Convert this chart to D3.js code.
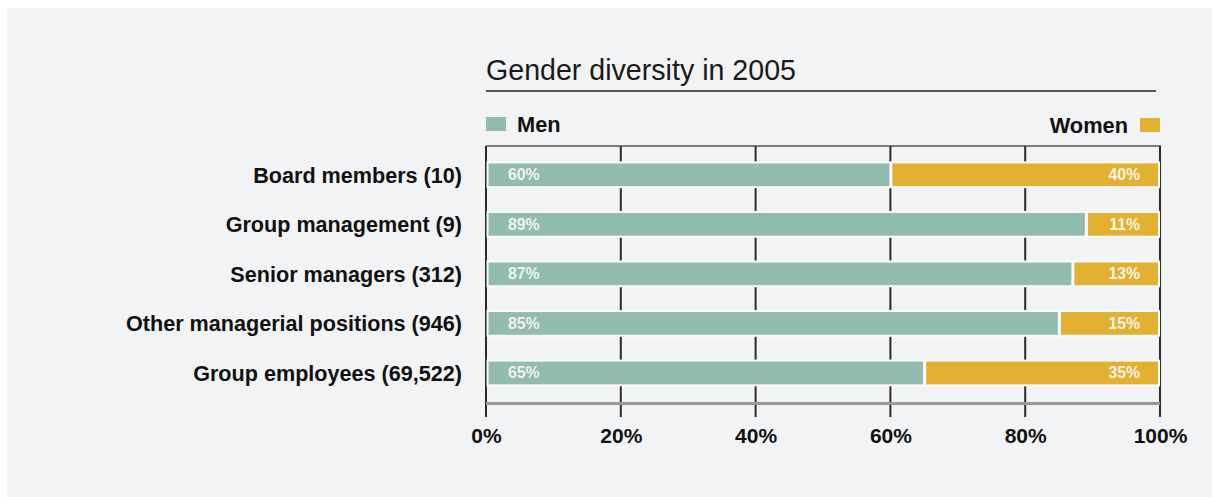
<!DOCTYPE html>
<html>
<head>
<meta charset="utf-8">
<script src="https://cdn.jsdelivr.net/npm/d3@7"></script>
<style>
  html, body { margin: 0; padding: 0; background: #ffffff; }
  svg { display: block; }
  text { font-family: "Liberation Sans", Arial, Helvetica, sans-serif; }
</style>
</head>
<body>
<svg id="chart" width="1212" height="497"></svg>
<script>
// Gender split by staff category, 2005 (percent)
const categories = [
  "Board members (10)",
  "Group management (9)",
  "Senior managers (312)",
  "Other managerial positions (946)",
  "Group employees (69,522)"
];
const menShare = [60, 89, 87, 85, 65];
const womenShare = [40, 11, 13, 15, 35];
const tickValues = [0, 20, 40, 60, 80, 100];
const seriesNames = ["Men", "Women"];
const seriesColors = ["#93bcb0", "#e2b132"];

const svg = d3.select("#chart");

// panel background
svg.append("rect")
  .attr("x", 7).attr("y", 8)
  .attr("width", 1212 - 7).attr("height", 497 - 8)
  .attr("fill", "#f2f3f5");

const plotLeft = 486, plotRight = 1160, plotTop = 146, plotBottom = 417;

const x = d3.scaleLinear().domain([0, 100]).range([plotLeft, plotRight]);
const y = d3.scaleBand()
  .domain(categories)
  .range([150, 397.75])
  .paddingInner(0.5)
  .paddingOuter(0.25);

// title and rule under it
svg.append("text")
  .attr("x", plotLeft).attr("y", 80)
  .attr("font-size", 28.6)
  .attr("fill", "#1a1a1a")
  .text("Gender diversity in 2005");
svg.append("line")
  .attr("x1", plotLeft).attr("x2", 1156)
  .attr("y1", 91).attr("y2", 91)
  .attr("stroke", "#222").attr("stroke-width", 1.3);

// legend
svg.append("rect")
  .attr("x", 486).attr("y", 117).attr("width", 20).attr("height", 14)
  .attr("fill", seriesColors[0]);
svg.append("text")
  .attr("x", 517).attr("y", 131.5)
  .attr("font-size", 21.8).attr("font-weight", "bold").attr("fill", "#111")
  .text(seriesNames[0]);
svg.append("rect")
  .attr("x", 1140).attr("y", 118).attr("width", 20).attr("height", 14)
  .attr("fill", seriesColors[1]);
svg.append("text")
  .attr("x", 1128).attr("y", 132.5)
  .attr("text-anchor", "end")
  .attr("font-size", 21.8).attr("font-weight", "bold").attr("fill", "#111")
  .text(seriesNames[1]);

// frame: top rule and vertical lines at every tick
svg.append("line")
  .attr("x1", plotLeft).attr("x2", plotRight + 1)
  .attr("y1", plotTop).attr("y2", plotTop)
  .attr("stroke", "#555").attr("stroke-width", 1.5);

svg.append("g").selectAll("line")
  .data(tickValues)
  .join("line")
  .attr("x1", d => x(d)).attr("x2", d => x(d))
  .attr("y1", plotTop).attr("y2", plotBottom)
  .attr("stroke", "#2b2b2b").attr("stroke-width", 2);

// grey base line
svg.append("line")
  .attr("x1", plotLeft).attr("x2", plotRight)
  .attr("y1", 403.5).attr("y2", 403.5)
  .attr("stroke", "#9a9a9a").attr("stroke-width", 3);

// bars
const rows = categories.map((c, i) => ({ cat: c, men: menShare[i], women: womenShare[i] }));

const bars = svg.append("g");
bars.selectAll("rect.men")
  .data(rows)
  .join("rect")
  .attr("class", "men")
  .attr("x", x(0) + 1.5)
  .attr("y", d => y(d.cat))
  .attr("width", d => x(d.men) - x(0) - 1.5)
  .attr("height", y.bandwidth())
  .attr("fill", seriesColors[0])
  .attr("stroke", "#fbfbfb").attr("stroke-width", 2);

bars.selectAll("rect.women")
  .data(rows)
  .join("rect")
  .attr("class", "women")
  .attr("x", d => x(d.men) + 1)
  .attr("y", d => y(d.cat))
  .attr("width", d => x(100) - x(d.men) - 2)
  .attr("height", y.bandwidth())
  .attr("fill", seriesColors[1])
  .attr("stroke", "#fbfbfb").attr("stroke-width", 2);

// value labels inside bars
bars.selectAll("text.menv")
  .data(rows)
  .join("text")
  .attr("class", "menv")
  .attr("x", x(0) + 22)
  .attr("y", d => y(d.cat) + y.bandwidth() / 2 + 5.5)
  .attr("font-size", 15.8).attr("font-weight", "bold")
  .attr("fill", "#f1f3ef")
  .text(d => d.men + "%");

bars.selectAll("text.womenv")
  .data(rows)
  .join("text")
  .attr("class", "womenv")
  .attr("x", x(100) - 20)
  .attr("y", d => y(d.cat) + y.bandwidth() / 2 + 5.5)
  .attr("text-anchor", "end")
  .attr("font-size", 15.8).attr("font-weight", "bold")
  .attr("fill", "#f7f3e6")
  .text(d => d.women + "%");

// category labels
svg.append("g").selectAll("text")
  .data(categories)
  .join("text")
  .attr("x", 462)
  .attr("y", d => y(d) + y.bandwidth() / 2 + 8)
  .attr("text-anchor", "end")
  .attr("font-size", 21.6).attr("font-weight", "bold").attr("fill", "#111")
  .text(d => d);

// x axis labels
const xAxis = d3.axisBottom(x)
  .tickValues(tickValues)
  .tickFormat(d => d + "%")
  .tickSize(0)
  .tickPadding(0);
const axisG = svg.append("g")
  .attr("transform", `translate(0, 427)`)
  .call(xAxis);
axisG.select(".domain").remove();
axisG.selectAll("text")
  .attr("font-family", "\"Liberation Sans\", Arial, sans-serif")
  .attr("font-size", 21).attr("font-weight", "bold").attr("fill", "#111")
  .attr("dy", "0.75em");
</script>
</body>
</html>
